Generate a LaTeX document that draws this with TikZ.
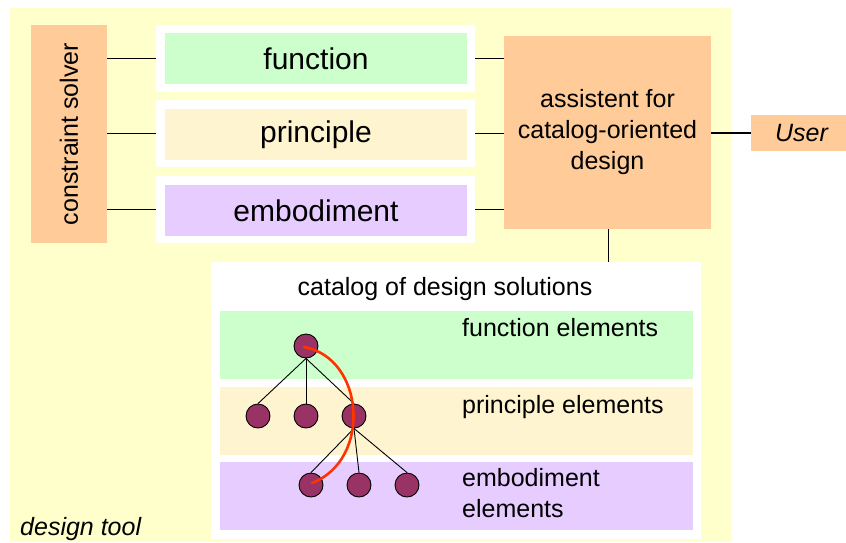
\documentclass[tikz,border=0pt]{standalone}
\usepackage{fontspec}
\setmainfont{Liberation Sans}
\definecolor{toolbg}{HTML}{FFFFCC}
\definecolor{peach}{HTML}{FFCC99}
\definecolor{fgreen}{HTML}{CCFFCC}
\definecolor{pcream}{HTML}{FFF4D0}
\definecolor{elilac}{HTML}{E6CCFF}
\definecolor{elemfill}{HTML}{993366}
\definecolor{pathred}{HTML}{FF3300}
\newcommand{\txtL}{\fontsize{30}{36}\selectfont}
\newcommand{\txtM}{\fontsize{25}{31}\selectfont}
\tikzset{
  box/.style={draw=none, inner sep=0pt, outer sep=0pt},
  frame/.style={box, fill=white, minimum width=319, minimum height=67},
  layer/.style={box, minimum width=302, minimum height=51, font=\txtL},
  band/.style={box, minimum width=473, minimum height=68},
  link/.style={draw=black, line width=1.3pt},
  branch/.style={draw=black, line width=0.9pt},
  elem/.style={circle, draw=black, line width=0.9pt, fill=elemfill, minimum size=24, inner sep=0pt},
  lbl/.style={inner sep=0pt, font=\txtM, anchor=west, align=left},
}
\begin{document}
\begin{tikzpicture}[x=1pt, y=-1pt]
\useasboundingbox (0,0) rectangle (846,542);
% design tool area
\fill[toolbg] (10,8) rectangle (731,542);
\node[inner sep=0pt, anchor=base west, font=\txtM\itshape] (tool) at (20,535) {design tool};

% constraint solver
\node[box, fill=peach, minimum width=76, minimum height=218] (solver) at (69,134) {};
\node[rotate=90, font=\txtM, inner sep=0pt] (solvertxt) at (solver.center) {constraint solver};

% the three model layers
\node[frame] (ffr) at (315.5,58.5) {};
\node[layer, fill=fgreen] (func) at (316,58.5) {function};
\node[frame] (pfr) at (315.5,133.5) {};
\node[layer, fill=pcream] (prin) at (316,134.5) {principle};
\node[frame] (efr) at (315.5,209.5) {};
\node[layer, fill=elilac] (embo) at (316,210.5) {embodiment};

% assistant and user
\node[box, fill=peach, minimum width=207, minimum height=193, align=center, font=\txtM] (assist) at (607.5,132.5)
  {assistent for\\catalog-oriented\\design};
\node[box, fill=peach, minimum width=95, minimum height=36, font=\txtM\itshape] (user) at (798.5,133) {\hspace*{6pt}User};

% connections
\draw[link] (solver.east |- ffr) -- (ffr.west);
\draw[link] (solver.east |- pfr) -- (pfr.west);
\draw[link] (solver.east |- efr) -- (efr.west);
\draw[link] (ffr.east) -- (assist.west |- ffr);
\draw[link] (pfr.east) -- (assist.west |- pfr);
\draw[link] (efr.east) -- (assist.west |- efr);
\draw[link] (assist.east |- user) -- (user.west);

% catalog of design solutions
\node[box, fill=white, minimum width=490, minimum height=277] (cat) at (456,400.5) {};
\draw[link] ([xshift=1pt]assist.south) -- ([xshift=1pt]assist.south |- cat.north);
\node[inner sep=0pt, font=\txtM] (cattitle) at (445,289) {catalog of design solutions};
\node[band, fill=fgreen] (fband) at (456.5,345) {};
\node[band, fill=pcream] (pband) at (456.5,421) {};
\node[band, fill=elilac] (eband) at (456.5,496) {};
\node[lbl] (flbl) at (462,328) {function elements};
\node[lbl] (plbl) at (462,407) {principle elements};
\node[lbl] (elbl) at (462,493) {embodiment\\elements};

% element tree
\node[elem] (f1) at (306,346) {};
\node[elem] (p1) at (258,416) {};
\node[elem] (p2) at (306,416) {};
\node[elem] (p3) at (354,416) {};
\node[elem] (e1) at (311,485) {};
\node[elem] (e2) at (359,485) {};
\node[elem] (e3) at (407,485) {};
\draw[branch] (f1.south) -- (p1.north);
\draw[branch] (f1.south) -- (p2.north);
\draw[branch] (f1.south) -- (p3.north);
\draw[branch] (p3.south) -- (e1.north);
\draw[branch] (p3.south) -- (e2.north);
\draw[branch] (p3.south) -- (e3.north);
% selected solution path
\draw[pathred, line width=2.6pt, line cap=round] ([xshift=-2pt,yshift=-1pt]f1.center) .. controls (365,358) and (372,460) .. ([xshift=1pt,yshift=2pt]e1.center);
\end{tikzpicture}
\end{document}
